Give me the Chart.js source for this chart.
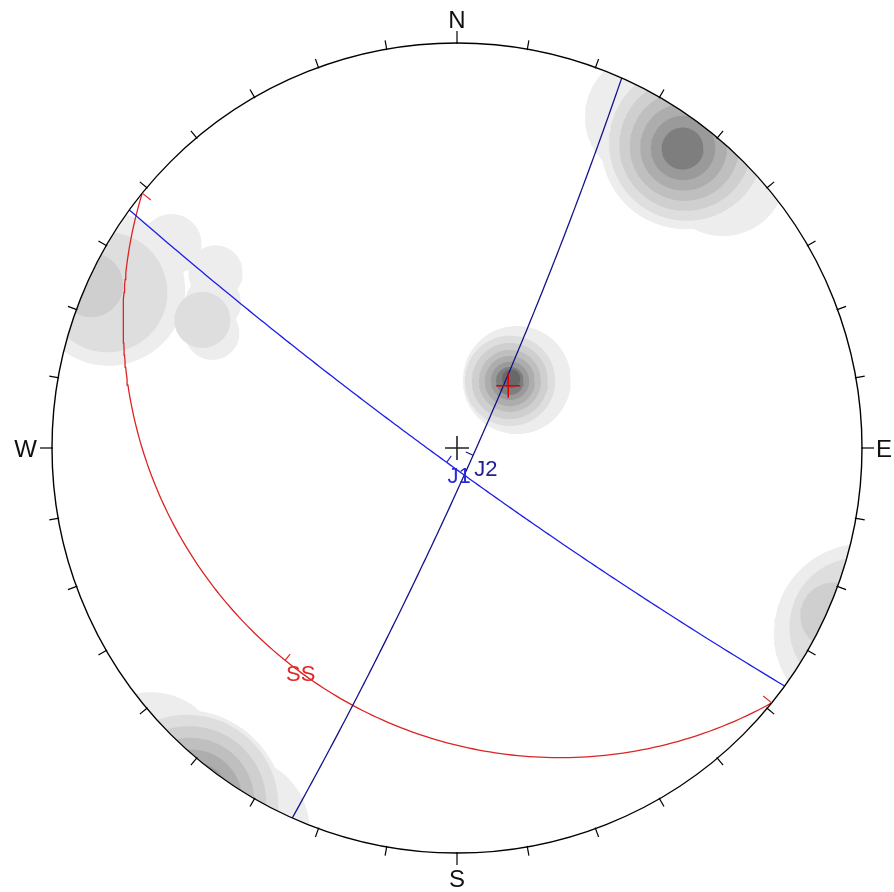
<!DOCTYPE html>
<html>
<head>
<meta charset="utf-8">
<script src="https://cdn.jsdelivr.net/npm/chart.js@4.4.1/dist/chart.umd.min.js"></script>
<style>
  html, body { margin: 0; padding: 0; background: #ffffff; }
  canvas { display: block; }
</style>
</head>
<body>
<canvas id="net" width="894" height="892" style="width:894px;height:892px"></canvas>
<script>
// ---- Planes (dip direction / dip, degrees) ----
const planeNames = ['J1', 'J2', 'SS'];
const planeDipDirections = [216, 114, 219];
const planeDips = [85, 85, 22];

// ---- Mean pole marker (trend / plunge, degrees) ----
const meanPoleTrend = [39.5];
const meanPolePlunge = [67.5];

// ---- Pole density contours: cones (trend, plunge, half-angle) filled at a contour level ----
const contourLevel  = [1,    1,    1,    2,    3,    4,    5,    6,    7,
                       1,    2,    3,    4,    5,    6,    7,    8,
                       1,    1,    1,    1,    1,    2,    2,    3];
const contourTrend  = [37,   30,   44,   37,   37,   37,   37,   37,   37,
                       41.4, 38.3, 38.3, 38.3, 38.3, 38.3, 38.3, 38.0,
                       294.5, 305.5, 306.0, 300.8, 295.2, 294, 296.7, 294];
const contourPlunge = [5,    4,    4,    4.5,  4.5,  4.5,  4.5,  4.5,  4.5,
                       65.2, 66.4, 66.4, 66.3, 66.3, 66.2, 66.2, 65.5,
                       4.3,  8.4,  17.4, 20.1, 22.7, 3.9,  19.9, 0.8];
const contourRadius = [12.8, 9.5,  9.5,  11.7, 10.0, 8.3,  6.6,  4.9,  3.2,
                       14.5, 12.2, 10.3, 8.4,  6.8,  5.2,  3.8,  2.5,
                       11.5, 4.9,  5.0,  5.3,  5.3,  9.0,  5.3,  4.6];

// ---- Compass ----
const compassLabels = ['N', 'E', 'S', 'W'];
const compassAzimuths = [0, 90, 180, 270];
const tickStepDeg = 10;

// ---- Styles ----
const contourShades = ['#ededed', '#dedede', '#cfcfcf', '#bfbfbf', '#adadad', '#9a9a9a', '#7e7e7e', '#686868'];
const planeLineColors = ['#1e1ee8', '#14148a', '#dc2424'];
const planeLabelColors = ['#2a2ad8', '#1f1f90', '#e02828'];

// ---- Equal-angle (stereographic) lower-hemisphere projection ----
const D2R = Math.PI / 180;
function toVec(trend, plunge) {           // [north, east, down]
  const t = trend * D2R, p = plunge * D2R;
  return [Math.cos(p) * Math.cos(t), Math.cos(p) * Math.sin(t), Math.sin(p)];
}
function project(v) {
  const k = 1 / (1 + v[2]);
  return { x: v[1] * k, y: v[0] * k };
}
function greatCircle(dipDir, dip) {
  const s = toVec(dipDir - 90, 0), d = toVec(dipDir, dip), pts = [];
  for (let a = 0; a <= 180; a += 1) {
    const c = Math.cos(a * D2R), n = Math.sin(a * D2R);
    pts.push(project([c * s[0] + n * d[0], c * s[1] + n * d[1], c * s[2] + n * d[2]]));
  }
  return pts;
}
function smallCircle(trend, plunge, radius) {
  const a = toVec(trend, plunge), u = toVec(trend, plunge - 90), w = toVec(trend + 90, 0);
  const cr = Math.cos(radius * D2R), sr = Math.sin(radius * D2R), pts = [];
  for (let f = 0; f <= 360; f += 2) {
    const cf = Math.cos(f * D2R), sf = Math.sin(f * D2R);
    const v = [0, 1, 2].map(i => cr * a[i] + sr * (cf * u[i] + sf * w[i]));
    pts.push(project(v));
  }
  return pts;
}

// ---- Datasets ----
const datasets = [];
contourLevel.forEach((lvl, i) => {
  const cones = [[contourTrend[i], contourPlunge[i]]];
  // the part of a cone above the horizontal reappears on the opposite side
  if (contourPlunge[i] - contourRadius[i] < 0) cones.push([contourTrend[i] + 180, -contourPlunge[i]]);
  cones.forEach(([t, p]) => datasets.push({
    data: smallCircle(t, p, contourRadius[i]),
    showLine: true,
    fill: 'shape',
    backgroundColor: contourShades[lvl - 1],
    borderColor: 'rgba(0,0,0,0)',
    borderWidth: 0,
    pointRadius: 0,
    order: 100 - lvl
  }));
});
planeNames.forEach((name, i) => datasets.push({
  label: name,
  data: greatCircle(planeDipDirections[i], planeDips[i]),
  showLine: true,
  fill: false,
  borderColor: planeLineColors[i],
  borderWidth: 1.3,
  pointRadius: 0,
  order: 1
}));

// ---- Frame, compass, markers and plane labels ----
const stereonetFrame = {
  id: 'stereonetFrame',
  beforeDatasetsDraw(chart) {
    const { ctx, scales: { x, y } } = chart;
    const cx = x.getPixelForValue(0), cy = y.getPixelForValue(0), R = x.getPixelForValue(1) - cx;
    ctx.save();
    ctx.beginPath();
    ctx.arc(cx, cy, R, 0, Math.PI * 2);
    ctx.clip();
  },
  afterDatasetsDraw(chart) {
    const { ctx, scales: { x, y } } = chart;
    ctx.restore();
    const cx = x.getPixelForValue(0), cy = y.getPixelForValue(0), R = x.getPixelForValue(1) - cx;
    const toPx = p => [x.getPixelForValue(p.x), y.getPixelForValue(p.y)];
    ctx.save();
    ctx.lineCap = 'butt';

    // primitive circle
    ctx.strokeStyle = '#000';
    ctx.lineWidth = 1.4;
    ctx.beginPath();
    ctx.arc(cx, cy, R, 0, Math.PI * 2);
    ctx.stroke();

    // azimuth ticks
    ctx.lineWidth = 1.2;
    for (let az = 0; az < 360; az += tickStepDeg) {
      const len = compassAzimuths.includes(az) ? 12 : 9;
      const sx = Math.sin(az * D2R), sy = -Math.cos(az * D2R);
      ctx.beginPath();
      ctx.moveTo(cx + sx * (R - 1), cy + sy * (R - 1));
      ctx.lineTo(cx + sx * (R + len), cy + sy * (R + len));
      ctx.stroke();
    }

    // compass letters
    ctx.fillStyle = '#111';
    ctx.font = '24px "Liberation Sans", Arial, sans-serif';
    compassLabels.forEach((lab, i) => {
      const az = compassAzimuths[i];
      if (az === 0) { ctx.textAlign = 'center'; ctx.fillText(lab, cx, cy - R - 15); }
      else if (az === 180) { ctx.textAlign = 'center'; ctx.fillText(lab, cx, cy + R + 34); }
      else if (az === 90) { ctx.textAlign = 'left'; ctx.fillText(lab, cx + R + 14, cy + 9); }
      else { ctx.textAlign = 'right'; ctx.fillText(lab, cx - R - 15, cy + 9); }
    });

    // centre cross
    ctx.strokeStyle = '#222';
    ctx.lineWidth = 1.6;
    ctx.beginPath();
    ctx.moveTo(cx - 12, cy); ctx.lineTo(cx + 12, cy);
    ctx.moveTo(cx, cy - 12); ctx.lineTo(cx, cy + 12);
    ctx.stroke();

    // mean pole cross
    meanPoleTrend.forEach((t, i) => {
      const [px, py] = toPx(project(toVec(t, meanPolePlunge[i])));
      ctx.strokeStyle = '#e00000';
      ctx.lineWidth = 1.5;
      ctx.beginPath();
      ctx.moveTo(px - 12, py); ctx.lineTo(px + 12, py);
      ctx.moveTo(px, py - 12); ctx.lineTo(px, py + 12);
      ctx.stroke();
    });

    // plane labels at the dip vector, with a short tick toward the centre
    ctx.font = '22px "Liberation Sans", Arial, sans-serif';
    ctx.textAlign = 'left';
    planeNames.forEach((name, i) => {
      const [px, py] = toPx(project(toVec(planeDipDirections[i], planeDips[i])));
      const dx = cx - px, dy = cy - py, dl = Math.hypot(dx, dy) || 1;
      ctx.strokeStyle = planeLineColors[i];
      ctx.lineWidth = 1.1;
      ctx.beginPath();
      ctx.moveTo(px, py);
      ctx.lineTo(px + dx / dl * 8, py + dy / dl * 8);
      ctx.stroke();
      ctx.fillStyle = planeLabelColors[i];
      ctx.fillText(name, px + 1, py + 21);
    });

    // end ticks of the SS trace
    const ss = planeNames.indexOf('SS');
    [planeDipDirections[ss] - 90, planeDipDirections[ss] + 90].forEach(az => {
      const [px, py] = toPx(project(toVec(az, 0)));
      const dx = cx - px, dy = cy - py, dl = Math.hypot(dx, dy);
      ctx.strokeStyle = planeLineColors[ss];
      ctx.lineWidth = 1.1;
      ctx.beginPath();
      ctx.moveTo(px, py);
      ctx.lineTo(px + dx / dl * 11, py + dy / dl * 11);
      ctx.stroke();
    });
    ctx.restore();
  }
};

new Chart(document.getElementById('net'), {
  type: 'scatter',
  data: { datasets },
  options: {
    responsive: false,
    animation: false,
    events: [],
    layout: { padding: { left: 52, right: 32, top: 43, bottom: 39 } },
    scales: {
      x: { type: 'linear', min: -1, max: 1, display: false },
      y: { type: 'linear', min: -1, max: 1, display: false }
    },
    elements: { line: { tension: 0 } },
    plugins: { legend: { display: false }, tooltip: { enabled: false } }
  },
  plugins: [stereonetFrame]
});
</script>
</body>
</html>
